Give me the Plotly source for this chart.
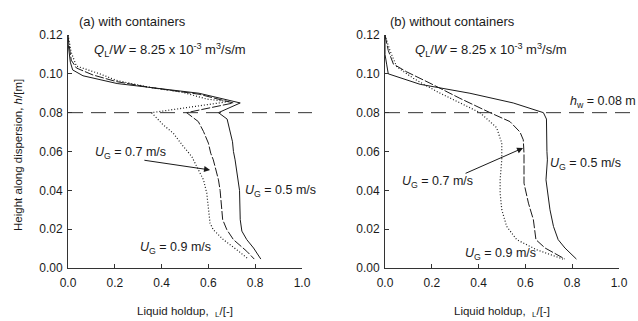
import plotly.graph_objects as go

# ---------------- data ----------------
# panel (a) with containers
a_x05 = [0.0, 0.0, 0.01, 0.02, 0.064, 0.136, 0.21, 0.35, 0.49, 0.56, 0.736, 0.643, 0.68, 0.693, 0.703, 0.707, 0.714, 0.733, 0.736, 0.743, 0.764, 0.793, 0.824]
a_y05 = [0.12, 0.116, 0.106, 0.102, 0.099, 0.097, 0.095, 0.093, 0.091, 0.090, 0.085, 0.080, 0.0767, 0.070, 0.065, 0.060, 0.0557, 0.040, 0.0249, 0.019, 0.0146, 0.0103, 0.0046]
a_x07 = [0.0, 0.0, 0.014, 0.036, 0.107, 0.207, 0.35, 0.56, 0.707, 0.507, 0.557, 0.579, 0.60, 0.61, 0.621, 0.643, 0.65, 0.661, 0.679, 0.707, 0.764, 0.796]
a_y07 = [0.12, 0.119, 0.107, 0.103, 0.0994, 0.096, 0.093, 0.0895, 0.085, 0.080, 0.0754, 0.0703, 0.0643, 0.0591, 0.0557, 0.0454, 0.040, 0.0249, 0.0197, 0.0146, 0.0086, 0.0046]
a_x09 = [0.0, 0.014, 0.036, 0.136, 0.207, 0.35, 0.49, 0.593, 0.686, 0.357, 0.407, 0.45, 0.493, 0.529, 0.55, 0.579, 0.593, 0.60, 0.607, 0.621, 0.664, 0.721, 0.771]
a_y09 = [0.12, 0.111, 0.104, 0.100, 0.0966, 0.093, 0.0905, 0.087, 0.0857, 0.080, 0.0737, 0.0694, 0.0626, 0.0574, 0.0523, 0.0454, 0.0386, 0.030, 0.0231, 0.0197, 0.0146, 0.0094, 0.0046]

# panel (b) without containers
b_x05 = [0.0, 0.0, 0.007, 0.014, 0.15, 0.22, 0.363, 0.548, 0.677, 0.69, 0.69, 0.692, 0.694, 0.688, 0.705, 0.72, 0.74, 0.769, 0.818]
b_y05 = [0.12, 0.11, 0.105, 0.100, 0.0946, 0.093, 0.090, 0.085, 0.080, 0.0767, 0.070, 0.060, 0.0557, 0.0454, 0.030, 0.0214, 0.0146, 0.0103, 0.0046]
b_x07 = [0.0, 0.014, 0.036, 0.093, 0.192, 0.32, 0.449, 0.534, 0.577, 0.591, 0.594, 0.594, 0.594, 0.613, 0.634, 0.645, 0.684, 0.769]
b_y07 = [0.12, 0.112, 0.105, 0.101, 0.0952, 0.0874, 0.080, 0.0754, 0.070, 0.066, 0.059, 0.0557, 0.0437, 0.0334, 0.0249, 0.0146, 0.0103, 0.0046]
b_x09 = [0.0, 0.021, 0.05, 0.121, 0.221, 0.32, 0.406, 0.477, 0.499, 0.499, 0.499, 0.492, 0.492, 0.499, 0.52, 0.563, 0.648, 0.761]
b_y09 = [0.12, 0.112, 0.1037, 0.0977, 0.0909, 0.085, 0.080, 0.0723, 0.0643, 0.059, 0.0557, 0.0454, 0.0386, 0.030, 0.0214, 0.0146, 0.0094, 0.0046]

weir_height = 0.08
x_ticks = [0.0, 0.2, 0.4, 0.6, 0.8, 1.0]
y_ticks = [0.00, 0.02, 0.04, 0.06, 0.08, 0.10, 0.12]
x_range = [0.0, 1.0]
y_range = [0.0, 0.12]

# ---------------- figure ----------------
W, H = 638, 321
xdomA = [68 / W, 302 / W]
xdomB = [385 / W, 619 / W]
ydom = [1 - 268 / H, 1 - 35 / H]

FONT = "Liberation Sans, Arial, sans-serif"
INK = "#1a1a1a"

fig = go.Figure()

def add_line(x, y, dash, xa, ya, width=1.0):
    fig.add_trace(go.Scatter(x=x, y=y, mode="lines", xaxis=xa, yaxis=ya,
                             line=dict(color=INK, width=width, dash=dash),
                             showlegend=False, hoverinfo="skip"))

add_line(a_x05, a_y05, "solid", "x", "y")
add_line(a_x07, a_y07, "9px,2px", "x", "y")
add_line(a_x09, a_y09, "1px,2px", "x", "y", 1.2)
add_line(b_x05, b_y05, "solid", "x2", "y2")
add_line(b_x07, b_y07, "9px,2px", "x2", "y2")
add_line(b_x09, b_y09, "1px,2px", "x2", "y2", 1.2)

axis_common = dict(range=x_range, tickvals=x_ticks, ticktext=[f"{v:.1f}" for v in x_ticks],
                   ticks="inside", ticklen=4, tickcolor="#333", tickwidth=1,
                   showline=True, linecolor="#333", linewidth=1, showgrid=False, zeroline=False,
                   automargin=False,
                   tickfont=dict(family=FONT, size=12, color=INK), ticklabelstandoff=4)
yaxis_common = dict(range=y_range, tickvals=y_ticks, ticktext=[f"{v:.2f}" for v in y_ticks],
                    ticks="inside", ticklen=4, tickcolor="#333", tickwidth=1,
                    showline=True, linecolor="#333", linewidth=1, showgrid=False, zeroline=False,
                    automargin=False,
                    tickfont=dict(family=FONT, size=12, color=INK), ticklabelstandoff=2)

fig.update_layout(
    template="none",
    width=W, height=H,
    margin=dict(l=0, r=0, t=0, b=0, pad=0),
    paper_bgcolor="white", plot_bgcolor="white",
    font=dict(family=FONT, size=12, color=INK),
    xaxis=dict(domain=xdomA, anchor="y", **axis_common),
    yaxis=dict(domain=ydom, anchor="x", **yaxis_common),
    xaxis2=dict(domain=xdomB, anchor="y2", **axis_common),
    yaxis2=dict(domain=ydom, anchor="x2", **yaxis_common),
    showlegend=False,
)

# dashed weir-height lines (extend a bit past the plot area)
yp = ydom[0] + (weir_height - y_range[0]) / (y_range[1] - y_range[0]) * (ydom[1] - ydom[0])
for dom, ext in ((xdomA, 10 / W), (xdomB, 13 / W)):
    fig.add_shape(type="line", xref="paper", yref="paper", x0=dom[0], x1=dom[1] + ext,
                  y0=yp, y1=yp, line=dict(color="#333", width=1, dash="15px,8px"), layer="above")

def txt(s, x, y, xr, yr, size=12.5, xanchor="left"):
    fig.add_annotation(text=s, x=x, y=y, xref=xr, yref=yr, showarrow=False,
                       xanchor=xanchor, yanchor="middle",
                       font=dict(family=FONT, size=size, color=INK))

QL = "<i>Q</i><sub>L</sub>/<i>W</i> = 8.25 x 10<sup>-3</sup> m<sup>3</sup>/s/m"
UG = "<i>U</i><sub>G</sub> = {} m/s"

# panel titles (paper coords, above the plot area)
txt("(a) with containers", 77 / W, 1 - 21 / H, "paper", "paper", 13)
txt("(b) without containers", 388 / W, 1 - 21 / H, "paper", "paper", 13)

# panel (a)
txt(QL, 0.103, 0.1123, "x", "y", 13)
txt(UG.format("0.7"), 0.107, 0.0592, "x", "y")
txt(UG.format("0.5"), 0.748, 0.0397, "x", "y")
txt(UG.format("0.9"), 0.299, 0.0103, "x", "y")
fig.add_annotation(x=0.607, y=0.0505, ax=0.32, ay=0.0556, xref="x", yref="y",
                   axref="x", ayref="y", showarrow=True, arrowhead=2, arrowsize=1.2,
                   arrowwidth=1, arrowcolor=INK, text="")

# panel (b)
txt(QL, 0.12, 0.1123, "x2", "y2", 13)
txt(UG.format("0.5"), 0.697, 0.0535, "x2", "y2")
txt(UG.format("0.7"), 0.064, 0.0443, "x2", "y2")
txt(UG.format("0.9"), 0.333, 0.0072, "x2", "y2")
txt("<i>h</i><sub>w</sub> = 0.08 m", 568 / W, 1 - 102 / H, "paper", "paper")
fig.add_annotation(x=0.59, y=0.0618, ax=0.338, ay=0.0484, xref="x2", yref="y2",
                   axref="x2", ayref="y2", showarrow=True, arrowhead=2, arrowsize=1.2,
                   arrowwidth=1, arrowcolor=INK, text="")

# axis titles
xt = "Liquid holdup,  <sub>L</sub>/[-]"
fig.add_annotation(text=xt, x=185 / W, y=1 - 312 / H, xref="paper", yref="paper",
                   showarrow=False, xanchor="center", yanchor="middle",
                   font=dict(family=FONT, size=11.5, color=INK))
fig.add_annotation(text=xt, x=502 / W, y=1 - 312 / H, xref="paper", yref="paper",
                   showarrow=False, xanchor="center", yanchor="middle",
                   font=dict(family=FONT, size=11.5, color=INK))
fig.add_annotation(text="Height along dispersion, <i>h</i>/[m]", x=18 / W, y=1 - 155 / H,
                   xref="paper", yref="paper", showarrow=False, textangle=-90,
                   xanchor="center", yanchor="middle",
                   font=dict(family=FONT, size=11.5, color=INK))

fig.write_html("out.html", config={"displayModeBar": False, "staticPlot": True},
               post_script="document.body.style.margin='0';")
